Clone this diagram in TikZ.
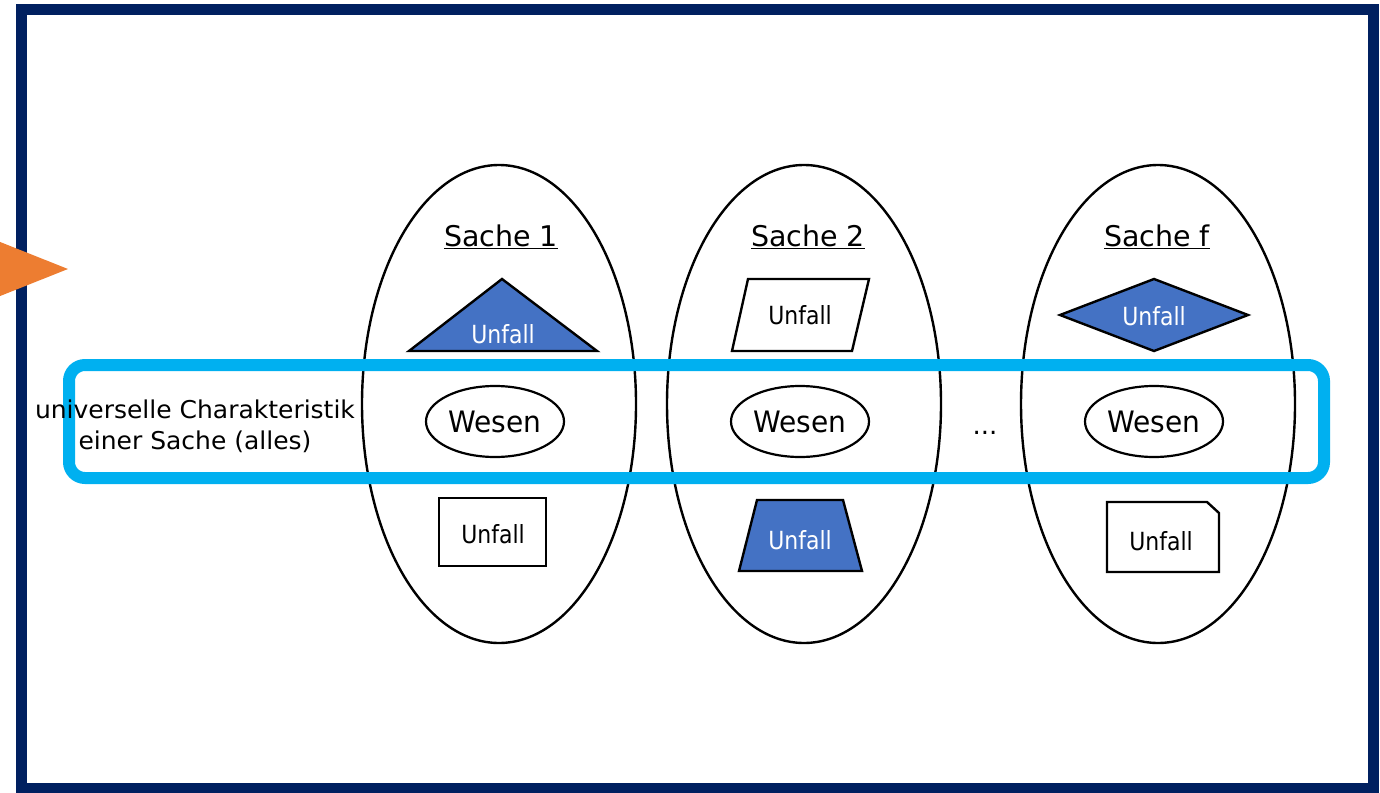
\documentclass[tikz,border=0pt]{standalone}
\usepackage{fontspec}
\setmainfont{DejaVu Sans}
\newfontfamily\unffont[FakeStretch=0.88]{DejaVu Sans}
\newfontfamily\wesfont[FakeStretch=0.95]{DejaVu Sans}
\newfontfamily\leftfont[FakeStretch=1.02]{DejaVu Sans}
\usetikzlibrary{shapes.geometric}
\definecolor{navy}{HTML}{002060}
\definecolor{cyanb}{HTML}{00B0F0}
\definecolor{shapeblue}{HTML}{4472C4}
\definecolor{orangeT}{HTML}{ED7D31}
\begin{document}
\begin{tikzpicture}[x=1pt,y=-1pt,
  sache/.style={draw=black, line width=2.4pt, ellipse, minimum width=274pt, minimum height=478pt, inner sep=0pt},
  wesen/.style={draw=black, line width=2.2pt, ellipse, minimum width=138pt, minimum height=71pt, inner sep=0pt, font=\wesfont\fontsize{29.5}{33}\selectfont},
  title/.style={anchor=base, inner sep=0pt, font=\fontsize{28.5}{32}\selectfont},
  shp/.style={draw=black, line width=2.4pt, line join=miter},
  bluesh/.style={shp, fill=shapeblue},
  whitesh/.style={shp, fill=white},
  unf/.style={anchor=base, inner sep=0pt, font=\unffont\fontsize{25}{29}\selectfont},
  unfw/.style={unf, text=white}
]
\useasboundingbox (0,0) rectangle (1380,792);
% frame
\draw[navy, line width=11.5pt] (21.5,9.5) rectangle (1373.5,789);
% orange triangle
\fill[orangeT] (-30,230) -- (68,269) -- (-30,308) -- cycle;
% big ellipses
\node[sache] (s1) at (499,404) {};
\node[sache] (s2) at (804,404) {};
\node[sache] (sf) at (1158,404) {};
% titles
\node[title] (t1) at (501,246) {\underline{Sache 1}};
\node[title] (t2) at (808,246) {\underline{Sache 2}};
\node[title] (tf) at (1157,246) {\underline{Sache f}};
% Sache 1 shapes
\draw[bluesh] (409,351) -- (502,279) -- (597,351) -- cycle;
\node[unfw] (u1a) at (503,343) {Unfall};
\draw[whitesh] (439,498) rectangle (546,566);
\node[unf] (u1b) at (493,543) {Unfall};
% Sache 2 shapes
\draw[whitesh] (748,279) -- (869,279) -- (852,351) -- (732,351) -- cycle;
\node[unf] (u2a) at (800,324) {Unfall};
\draw[bluesh] (757,500) -- (843,500) -- (862,571) -- (739,571) -- cycle;
\node[unfw] (u2b) at (800,549) {Unfall};
% Sache f shapes
\draw[bluesh] (1060,315) -- (1154,279) -- (1248,315) -- (1154,351) -- cycle;
\node[unfw] (ufa) at (1154,325) {Unfall};
\draw[whitesh] (1107,502) -- (1207,502) -- (1219,513) -- (1219,572) -- (1107,572) -- cycle;
\node[unf] (ufb) at (1161,550) {Unfall};
% Wesen
\node[wesen] (w1) at (495,421.5) {Wesen};
\node[wesen] (w2) at (800,421.5) {Wesen};
\node[wesen] (wf) at (1154,421.5) {Wesen};
\node[anchor=base, inner sep=0pt, font=\fontsize{26}{30}\selectfont] (dots) at (985,434) {...};
% band
\node[draw=cyanb, line width=12pt, rounded corners=16pt, minimum width=1255pt, minimum height=113pt, inner sep=0pt] (band) at (696.5,421.5) {};
% left text
\node[align=center, inner sep=0pt, font=\leftfont\fontsize{24.5}{31}\selectfont] (lt) at (195,426) {universelle Charakteristik\\einer Sache (alles)};
\end{tikzpicture}
\end{document}
